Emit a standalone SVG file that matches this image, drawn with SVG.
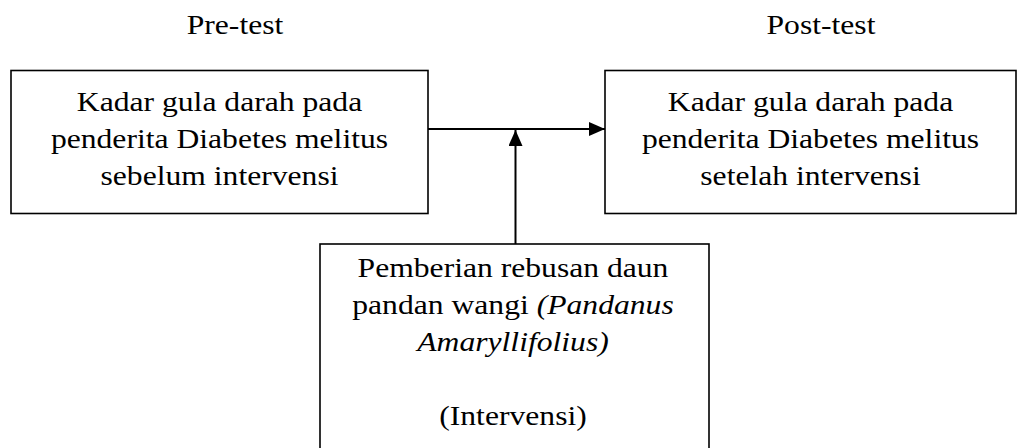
<svg xmlns="http://www.w3.org/2000/svg" width="1018" height="448" viewBox="0 0 1018 448">
<style>
.box{fill:#fff;stroke:#000;stroke-width:1.6}
.t{font-family:"Liberation Serif","Times New Roman",serif;font-size:28px;fill:#000;text-anchor:middle}
.i{font-style:italic}
.c{fill:none;stroke:#000;stroke-width:2}
</style>
<defs>
<marker id="ah" markerWidth="16" markerHeight="14" refX="16" refY="7" orient="auto" markerUnits="userSpaceOnUse">
<path d="M0,0 L16,7 L0,14 Z" fill="#000"/>
</marker>
</defs>
<g id="label-pre"><g transform="translate(235,0) scale(1.13,1)"><text class="t" x="0" y="34">Pre-test</text></g></g>
<g id="label-post"><g transform="translate(821,0) scale(1.13,1)"><text class="t" x="0" y="34">Post-test</text></g></g>
<g id="connectors">
<line class="c" x1="428" y1="129" x2="605" y2="129" marker-end="url(#ah)"/>
<line class="c" x1="515.5" y1="244" x2="515.5" y2="130" marker-end="url(#ah)"/>
</g>
<g id="node-pre">
<rect class="box" x="11" y="70.5" width="417" height="143"/>
<g transform="translate(219.5,0) scale(1.13,1)">
<text class="t" x="0" y="111">Kadar gula darah pada</text>
<text class="t" x="0" y="148">penderita Diabetes melitus</text>
<text class="t" x="0" y="185">sebelum intervensi</text>
</g>
</g>
<g id="node-post">
<rect class="box" x="605" y="70.5" width="411" height="143"/>
<g transform="translate(810.5,0) scale(1.13,1)">
<text class="t" x="0" y="111">Kadar gula darah pada</text>
<text class="t" x="0" y="148">penderita Diabetes melitus</text>
<text class="t" x="0" y="185">setelah intervensi</text>
</g>
</g>
<g id="node-intervensi">
<rect class="box" x="320" y="244" width="389" height="220"/>
<g transform="translate(513,0) scale(1.13,1)">
<text class="t" x="0" y="277">Pemberian rebusan daun</text>
<text class="t" x="0" y="314">pandan wangi <tspan class="i">(Pandanus</tspan></text>
<text class="t i" x="0" y="351">Amaryllifolius)</text>
<text class="t" x="0" y="425">(Intervensi)</text>
</g>
</g>
</svg>
